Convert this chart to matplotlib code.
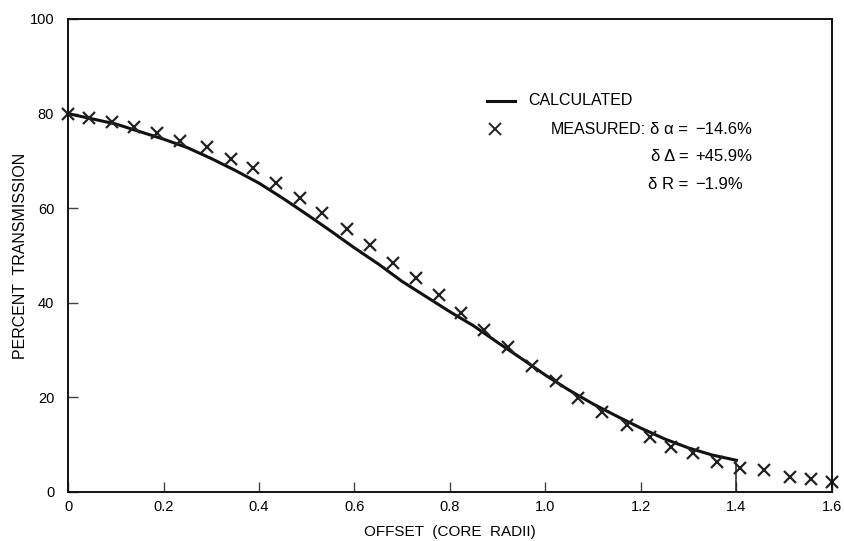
import matplotlib
matplotlib.use("Agg")
import matplotlib.pyplot as plt

plt.rcParams['font.family'] = ['Liberation Sans', 'DejaVu Sans']

# calculated transmission vs. fibre offset (core radii)
calc_offset = [0.0, 0.05, 0.10, 0.15, 0.20, 0.25, 0.30, 0.35, 0.40, 0.45,
               0.50, 0.55, 0.60, 0.65, 0.70, 0.75, 0.80, 0.85, 0.90, 0.95,
               1.00, 1.05, 1.10, 1.15, 1.20, 1.25, 1.30, 1.35, 1.40]
calc_trans = [80.0, 78.9, 77.8, 76.2, 74.6, 72.8, 70.5, 68.0, 65.3, 62.1,
              58.7, 55.2, 51.6, 48.2, 44.5, 41.3, 38.1, 35.1, 31.6, 28.2,
              24.7, 21.5, 18.6, 16.0, 13.5, 11.2, 9.3, 7.8, 6.7]

# measured points
meas_offset = [0.0, 0.043, 0.093, 0.139, 0.186, 0.235, 0.291, 0.342, 0.387, 0.435,
               0.485, 0.533, 0.584, 0.632, 0.680, 0.729, 0.777, 0.823, 0.871, 0.922,
               0.972, 1.023, 1.069, 1.119, 1.170, 1.220, 1.264, 1.310, 1.359, 1.407,
               1.457, 1.512, 1.556, 1.600]
meas_trans = [80.0, 79.0, 78.3, 77.1, 75.8, 74.1, 73.0, 70.5, 68.4, 65.4,
              62.1, 59.0, 55.5, 52.2, 48.4, 45.2, 41.6, 37.9, 34.2, 30.7,
              26.6, 23.5, 19.8, 17.0, 14.2, 11.6, 9.6, 8.2, 6.4, 5.0,
              4.7, 3.2, 2.7, 2.2]

# fitted parameter deviations shown next to the legend
dev_names = ['δ α =', 'δ Δ =', 'δ R =']
dev_values = ['−14.6%', '+45.9%', '−1.9%']

x_ticks = [0, 0.2, 0.4, 0.6, 0.8, 1.0, 1.2, 1.4, 1.6]
x_labels = ['0', '0.2', '0.4', '0.6', '0.8', '1.0', '1.2', '1.4', '1.6']
y_ticks = [0, 20, 40, 60, 80, 100]

fig = plt.figure(figsize=(8.45, 5.41), dpi=100)
ax = fig.add_axes([0.0805, 0.0906, 0.904, 0.8743])

ax.plot(calc_offset, calc_trans, color='#111111', lw=2.2, solid_joinstyle='round')
# cut-off at the end of the calculated curve
ax.vlines(calc_offset[-1], 0, calc_trans[-1], color='#222222', lw=1.1)
ax.plot(meas_offset, meas_trans, ls='none', marker='x', color='#222222',
        ms=9, mew=1.6, clip_on=False)

ax.set_xlim(0, 1.6)
ax.set_ylim(0, 100)
ax.set_xticks(x_ticks)
ax.set_xticklabels(x_labels)
ax.set_yticks(y_ticks)
ax.tick_params(axis='both', direction='in', length=7, width=1.0, color='#444444',
               labelsize=10.5, top=False, right=False)
ax.tick_params(axis='y', pad=10)
ax.tick_params(axis='x', pad=6)
for s in ax.spines.values():
    s.set_linewidth(1.4)
    s.set_color('#111111')

ax.set_xlabel('OFFSET  (CORE  RADII)', fontsize=11)
ax.xaxis.set_label_coords(0.5, -0.069)
ax.set_ylabel('PERCENT  TRANSMISSION', fontsize=11.5)
ax.yaxis.set_label_coords(-0.053, 0.5)

# legend block
tr = ax.transAxes
ax.plot([0.548, 0.585], [0.827, 0.827], color='#111111', lw=2.2, transform=tr)
ax.text(0.602, 0.827, 'CALCULATED', transform=tr, fontsize=11.5, va='center', ha='left')
ax.plot([0.559], [0.767], ls='none', marker='x', color='#222222', ms=8, mew=1.4,
        transform=tr)
ax.text(0.757, 0.767, 'MEASURED:', transform=tr, fontsize=11.5,
        va='center', ha='right')
for yy, name, val in zip([0.767, 0.710, 0.651], dev_names, dev_values):
    ax.text(0.812, yy, name, transform=tr, fontsize=12, va='center', ha='right')
    ax.text(0.821, yy, val, transform=tr, fontsize=12, va='center', ha='left')

fig.savefig('out.png', dpi=100)
